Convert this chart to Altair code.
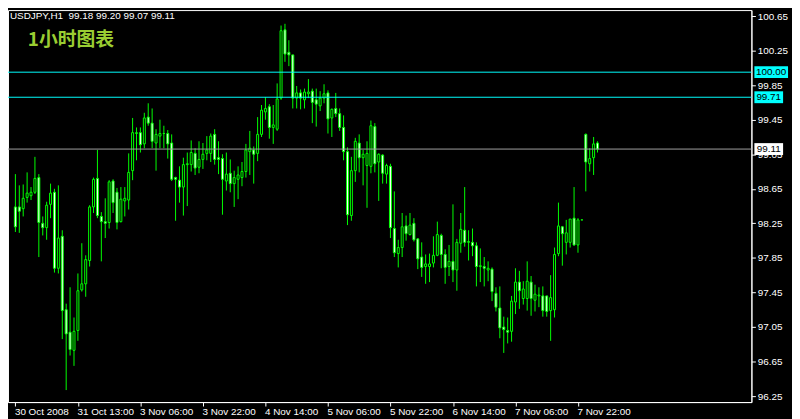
import json
import altair as alt
import pandas as pd

header_text = "USDJPY,H1\u00a0 99.18 99.20 99.07 99.11"
chart_label = "1小时图表"

x_tick_index = [0, 16, 32, 48, 64, 80, 96, 112, 128, 144]
x_tick_labels = ["30 Oct 2008", "31 Oct 13:00", "3 Nov 06:00", "3 Nov 22:00", "4 Nov 14:00",
                 "5 Nov 06:00", "5 Nov 22:00", "6 Nov 14:00", "7 Nov 06:00", "7 Nov 22:00"]
y_ticks = [96.25, 96.65, 97.05, 97.45, 97.85, 98.25, 98.65, 99.05, 99.45, 99.85, 100.25, 100.65]

level_prices = [100.00, 99.71]
bid_price = 99.11

open_ = [98.44, 98.44, 98.42, 98.55, 98.57, 98.61, 98.78, 98.25, 98.20, 98.47,
         98.61, 97.73, 98.10, 97.25, 96.99, 96.78, 97.01, 97.48, 97.55, 97.82,
         98.44, 98.77, 98.33, 98.27, 98.26, 98.74, 98.61, 98.27, 98.51, 98.52,
         98.86, 99.29, 99.30, 99.17, 99.48, 99.41, 99.18, 99.26, 99.29, 99.29,
         99.18, 98.78, 98.75, 98.67, 98.93, 98.93, 99.06, 98.90, 98.99, 99.06,
         99.06, 99.28, 99.01, 99.00, 98.74, 98.83, 98.71, 98.76, 98.78, 98.85,
         99.08, 99.10, 99.06, 99.28, 99.54, 99.60, 99.36, 99.34, 99.70, 100.49,
         100.23, 100.20, 99.70, 99.76, 99.68, 99.75, 99.78, 99.68, 99.61, 99.70,
         99.76, 99.47, 99.58, 99.52, 99.36, 99.08, 98.34, 98.86, 99.18, 99.01,
         98.92, 98.91, 99.37, 98.96, 99.04, 98.82, 98.91, 98.19, 97.90, 97.97,
         98.22, 98.12, 98.25, 98.07, 97.86, 97.75, 97.75, 97.79, 97.88, 98.11,
         97.89, 97.75, 97.81, 97.71, 98.02, 98.17, 98.03, 98.03, 97.99, 97.75,
         97.75, 97.71, 97.72, 97.44, 97.27, 97.05, 97.01, 97.00, 97.34, 97.57,
         97.38, 97.38, 97.57, 97.36, 97.41, 97.41, 97.41, 97.24, 97.25, 97.90,
         98.21, 98.03, 98.03, 98.31, 98.00, 98.29, 99.28, 98.94, 99.01, 99.18]

high = [98.82, 98.69, 98.70, 98.84, 98.67, 99.02, 98.82, 98.33, 98.50, 98.71,
        98.65, 98.69, 98.17, 97.32, 97.51, 97.16, 97.67, 98.02, 97.88, 98.46,
        98.78, 99.10, 98.38, 98.54, 98.75, 98.76, 98.66, 98.67, 98.67, 99.06,
        99.47, 99.36, 99.36, 99.53, 99.64, 99.58, 99.34, 99.45, 99.38, 99.33,
        99.28, 98.79, 98.91, 99.01, 99.07, 99.21, 99.12, 99.20, 99.18, 99.26,
        99.29, 99.34, 99.20, 99.05, 99.07, 98.99, 98.86, 98.91, 98.96, 99.17,
        99.32, 99.14, 99.48, 99.62, 99.71, 99.63, 99.62, 99.87, 100.54, 100.56,
        100.37, 100.20, 99.84, 99.80, 99.81, 99.92, 99.81, 99.81, 99.78, 99.86,
        99.79, 99.58, 99.76, 99.58, 99.50, 99.13, 99.02, 99.24, 99.28, 99.10,
        99.20, 99.44, 99.41, 99.06, 99.05, 98.94, 98.94, 98.62, 98.06, 98.37,
        98.34, 98.37, 98.31, 98.08, 98.03, 97.89, 97.90, 98.10, 98.27, 98.13,
        97.95, 98.00, 98.47, 98.07, 98.37, 98.67, 98.17, 98.19, 98.03, 97.96,
        97.86, 97.81, 97.74, 97.51, 97.52, 97.17, 97.16, 97.41, 97.73, 97.70,
        97.58, 97.81, 97.64, 97.54, 97.51, 97.52, 97.41, 97.65, 97.97, 98.49,
        98.22, 98.29, 98.30, 98.67, 98.31, 98.29, 99.29, 99.12, 99.25, 99.20]

low = [98.15, 98.14, 98.33, 98.49, 98.52, 98.59, 97.86, 98.11, 98.06, 98.31,
       97.68, 97.67, 96.91, 96.32, 96.72, 96.60, 96.89, 97.46, 97.40, 97.75,
       98.37, 98.31, 97.81, 98.08, 98.19, 98.37, 98.18, 98.26, 98.33, 98.41,
       98.75, 98.98, 99.07, 99.12, 99.38, 99.12, 98.86, 99.12, 99.12, 99.00,
       98.74, 98.28, 98.49, 98.34, 98.45, 98.85, 98.81, 98.83, 98.88, 98.98,
       98.96, 98.93, 98.82, 98.35, 98.63, 98.61, 98.44, 98.53, 98.68, 98.78,
       98.81, 98.71, 98.97, 99.25, 99.45, 99.23, 99.17, 99.32, 99.68, 100.12,
       100.07, 99.58, 99.58, 99.57, 99.58, 99.70, 99.41, 99.37, 99.55, 99.64,
       99.29, 99.25, 99.48, 99.32, 98.98, 98.23, 98.28, 98.73, 98.84, 98.69,
       98.43, 98.83, 98.84, 98.51, 98.71, 98.71, 98.08, 97.86, 97.74, 97.86,
       98.05, 98.11, 98.04, 97.72, 97.63, 97.55, 97.57, 97.74, 97.87, 97.73,
       97.55, 97.64, 97.57, 97.47, 97.91, 97.98, 97.82, 97.87, 97.52, 97.57,
       97.52, 97.58, 97.35, 97.23, 96.92, 96.75, 96.86, 96.88, 97.20, 97.26,
       97.31, 97.24, 97.18, 97.23, 97.28, 97.17, 97.17, 96.89, 97.16, 97.87,
       97.76, 97.89, 97.97, 97.99, 97.91, 98.29, 98.62, 98.85, 98.81, 99.07]

close = [98.21, 98.39, 98.54, 98.60, 98.61, 98.77, 98.26, 98.20, 98.46, 98.60,
         97.73, 98.08, 97.24, 96.97, 96.79, 97.00, 97.47, 97.55, 97.83, 98.44,
         98.76, 98.34, 98.27, 98.25, 98.73, 98.49, 98.26, 98.53, 98.54, 98.84,
         99.30, 99.30, 99.16, 99.47, 99.41, 99.20, 99.28, 99.29, 99.29, 99.17,
         98.76, 98.76, 98.67, 98.93, 98.94, 99.07, 98.89, 98.99, 99.05, 99.10,
         99.26, 98.99, 98.99, 98.76, 98.82, 98.71, 98.78, 98.81, 98.85, 99.10,
         99.12, 99.05, 99.28, 99.56, 99.58, 99.36, 99.39, 99.69, 100.48, 100.21,
         100.20, 99.70, 99.76, 99.70, 99.77, 99.77, 99.65, 99.63, 99.70, 99.75,
         99.46, 99.57, 99.52, 99.36, 99.08, 98.35, 98.86, 99.20, 99.01, 99.05,
         99.06, 99.38, 98.94, 99.05, 98.83, 98.92, 98.20, 97.91, 97.97, 98.21,
         98.13, 98.23, 98.06, 97.84, 97.74, 97.78, 97.78, 97.88, 98.12, 97.89,
         97.74, 97.81, 97.71, 98.03, 98.18, 98.03, 98.04, 97.99, 97.75, 97.76,
         97.73, 97.73, 97.46, 97.28, 97.04, 97.02, 96.99, 97.35, 97.57, 97.47,
         97.49, 97.58, 97.38, 97.43, 97.42, 97.24, 97.23, 97.39, 97.89, 98.22,
         98.13, 98.14, 98.30, 98.00, 98.29, 98.29, 98.96, 99.00, 99.17, 99.11]

df = pd.DataFrame({"i": list(range(len(open_))), "open": open_, "high": high,
                   "low": low, "close": close})

PLOT_W, PLOT_H = 751, 396
FONT = "Liberation Sans"
xscale = alt.Scale(domain=[-0.625, -0.625 + PLOT_W / 4], nice=False, zero=False)
yscale = alt.Scale(domain=[96.181, 100.719], nice=False, zero=False)

label_expr = json.dumps(x_tick_labels) + "[indexof(" + json.dumps(x_tick_index) + ", datum.value)]"

xaxis = alt.Axis(title=None, values=x_tick_index, labelExpr=label_expr, grid=False,
                 domainColor="#ffffff", tickColor="#ffffff", tickSize=4,
                 labelColor="#ffffff", labelFont=FONT, labelFontSize=10,
                 labelAlign="left", labelBaseline="top", labelPadding=1, labelOffset=-1,
                 labelOverlap=False, labelFlush=False, labelBound=False)
yaxis = alt.Axis(title=None, orient="right", values=y_ticks, format=".2f", grid=False,
                 domainColor="#ffffff", tickColor="#ffffff", tickSize=4,
                 labelColor="#ffffff", labelFont=FONT, labelFontSize=10,
                 labelPadding=2, labelBaseline="middle",
                 labelOverlap=False, labelFlush=False, labelBound=False)

wicks = alt.Chart(df).mark_rule(color="#00ff00", strokeWidth=1).encode(
    x=alt.X("i:Q", scale=xscale, axis=xaxis),
    y=alt.Y("low:Q", scale=yscale, axis=yaxis),
    y2="high:Q",
)
bodies = alt.Chart(df).mark_bar(size=2, stroke="#00ff00", strokeWidth=1).encode(
    x=alt.X("i:Q", scale=xscale, axis=xaxis),
    y=alt.Y("open:Q", scale=yscale, axis=yaxis),
    y2="close:Q",
    fill=alt.condition("datum.close < datum.open", alt.value("#ffffff"), alt.value("#000000")),
)

level_rules = alt.Chart(pd.DataFrame({"price": level_prices})).mark_rule(
    color="#00ffff", strokeWidth=1).encode(
    y=alt.Y("price:Q", scale=yscale, axis=yaxis), x=alt.value(0), x2=alt.value(PLOT_W))
bid_rule = alt.Chart(pd.DataFrame({"price": [bid_price]})).mark_rule(
    color="#a0a0a0", strokeWidth=1).encode(
    y=alt.Y("price:Q", scale=yscale, axis=yaxis), x=alt.value(0), x2=alt.value(PLOT_W))

box_layers = []
box_items = [(p, "#00ffff") for p in level_prices] + [(bid_price, "#ffffff")]
for price, fill in box_items:
    label = f"{price:.2f}"
    w = 5 * len(label) + 4
    bdf = pd.DataFrame({"price": [price], "label": [label]})
    box_layers.append(alt.Chart(bdf).mark_rule(color=fill, strokeWidth=12, strokeCap="butt").encode(
        y=alt.Y("price:Q", scale=yscale, axis=yaxis),
        x=alt.value(PLOT_W + 3), x2=alt.value(PLOT_W + 3 + w)))
    box_layers.append(alt.Chart(bdf).mark_text(
        align="center", baseline="middle", color="#000000", font=FONT, fontSize=10).encode(
        y=alt.Y("price:Q", scale=yscale, axis=yaxis),
        x=alt.value(PLOT_W + 3 + w / 2), text="label:N"))

header = alt.Chart(pd.DataFrame({"t": [header_text]})).mark_text(
    align="left", baseline="top", color="#ffffff", font=FONT, fontSize=10).encode(
    x=alt.value(2), y=alt.value(1), text="t:N")
cn_label = alt.Chart(pd.DataFrame({"t": [chart_label]})).mark_text(
    align="left", baseline="top", color="#9acd32", font="Noto Sans CJK SC",
    fontSize=19, fontWeight="bold").encode(x=alt.value(20), y=alt.value(21), text="t:N")

chart = alt.layer(wicks, bodies, level_rules, bid_rule, *box_layers, header, cn_label).properties(
    width=PLOT_W, height=PLOT_H, background="#000000",
    padding={"left": 0, "top": 0, "right": 41, "bottom": 15},
    autosize=alt.AutoSizeParams(type="none"),
).configure_view(stroke="#ffffff", strokeWidth=1, fill="#000000")

chart.save("out.html", embed_options={"renderer": "svg", "actions": False})
